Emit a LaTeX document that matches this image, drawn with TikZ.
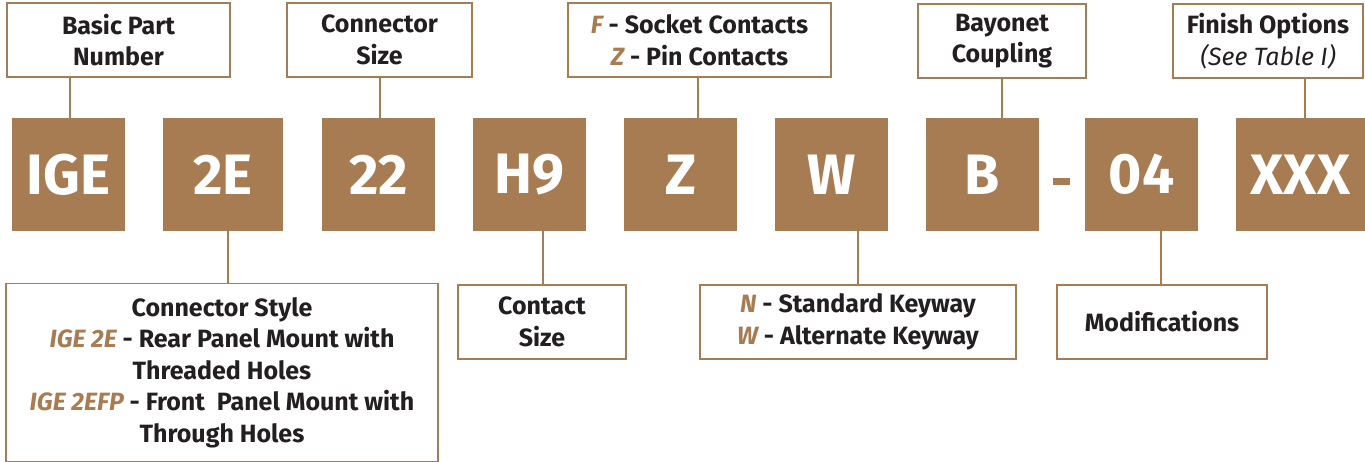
\documentclass[tikz,border=0pt]{standalone}
\usepackage{fontspec}
\setmainfont{Fira Sans}
\definecolor{brn}{RGB}{168,124,82}
\definecolor{ink}{RGB}{35,31,32}
\tikzset{
  code/.style={fill=brn, draw=none, inner sep=0pt, minimum height=113pt, text=white,
    font=\bfseries\fontsize{57}{57}\selectfont},
  lab/.style={draw=brn, fill=white, line width=1.6pt, inner sep=0pt, minimum height=74pt,
    align=center, text=ink, font=\bfseries\fontsize{25}{31.5}\selectfont},
  conn/.style={draw=brn, line width=1.6pt}
}
\newcommand{\hl}[1]{\textcolor{brn}{\itshape #1}}
\begin{document}
\begin{tikzpicture}[x=1pt,y=-1pt]
\useasboundingbox (0,0) rectangle (1365,462);
% code squares
\node[code, minimum width=113pt] (ige) at (68.5,174.5) {IGE};
\node[code, minimum width=120pt] (e2) at (223,174.5) {2E};
\node[code, minimum width=113pt] (s22) at (378.5,174.5) {22};
\node[code, minimum width=113pt] (h9) at (529.5,174.5) {H9};
\node[code, minimum width=113pt] (z) at (680.5,174.5) {Z};
\node[code, minimum width=113pt] (w) at (831.5,174.5) {W};
\node[code, minimum width=113pt] (b) at (982.5,174.5) {B};
\node[code, minimum width=113pt] (m04) at (1141.5,174.5) {04};
\node[code, minimum width=129pt] (xxx) at (1300.5,174.5) {XXX};
\node[fill=brn, inner sep=0pt, minimum width=17pt, minimum height=7pt] (dash) at (1061.5,181.5) {};
% top labels
\node[lab, minimum width=223pt] (basic) at (118.5,40) {Basic Part\\Number};
\node[lab, minimum width=185pt] (csize) at (379.5,40) {Connector\\Size};
\node[lab, minimum width=263pt] (fz) at (699.5,40) {\hl{F} - Socket Contacts\\\hl{Z} - Pin Contacts};
\node[lab, minimum width=168pt] (bay) at (1002,41) {Bayonet\\Coupling};
\node[lab, minimum width=190pt] (fin) at (1268,41) {Finish Options\\{\mdseries\itshape (See Table I)}};
% bottom labels
\node[lab, minimum width=432pt, minimum height=178pt] (style) at (222,372.5)
  {Connector Style\\\hl{IGE 2E} - Rear Panel Mount with\\Threaded Holes\\\hl{IGE 2EFP} - Front\ \ Panel Mount with\\Through Holes};
\node[lab, minimum width=168pt] (csz) at (542,322) {Contact\\Size};
\node[lab, minimum width=316pt] (key) at (858,322) {\hl{N} - Standard Keyway\\\hl{W} - Alternate Keyway};
\node[lab, minimum width=210pt] (mods) at (1162,322) {Modifications};
% connector x positions
\coordinate (x1) at (70,0);
\coordinate (x2) at (380,0);
\coordinate (x3) at (698,0);
\coordinate (x4) at (1002,0);
\coordinate (x5) at (1305,0);
\coordinate (x6) at (228,0);
\coordinate (x7) at (543,0);
\coordinate (x8) at (858,0);
\coordinate (x9) at (1161,0);
\draw[conn] (basic.south -| x1) -- (ige.north -| x1);
\draw[conn] (csize.south -| x2) -- (s22.north -| x2);
\draw[conn] (fz.south -| x3) -- (z.north -| x3);
\draw[conn] (bay.south -| x4) -- (b.north -| x4);
\draw[conn] (fin.south -| x5) -- (xxx.north -| x5);
\draw[conn] (e2.south -| x6) -- (style.north -| x6);
\draw[conn] (h9.south -| x7) -- (csz.north -| x7);
\draw[conn] (w.south -| x8) -- (key.north -| x8);
\draw[conn] (m04.south -| x9) -- (mods.north -| x9);
\end{tikzpicture}
\end{document}
